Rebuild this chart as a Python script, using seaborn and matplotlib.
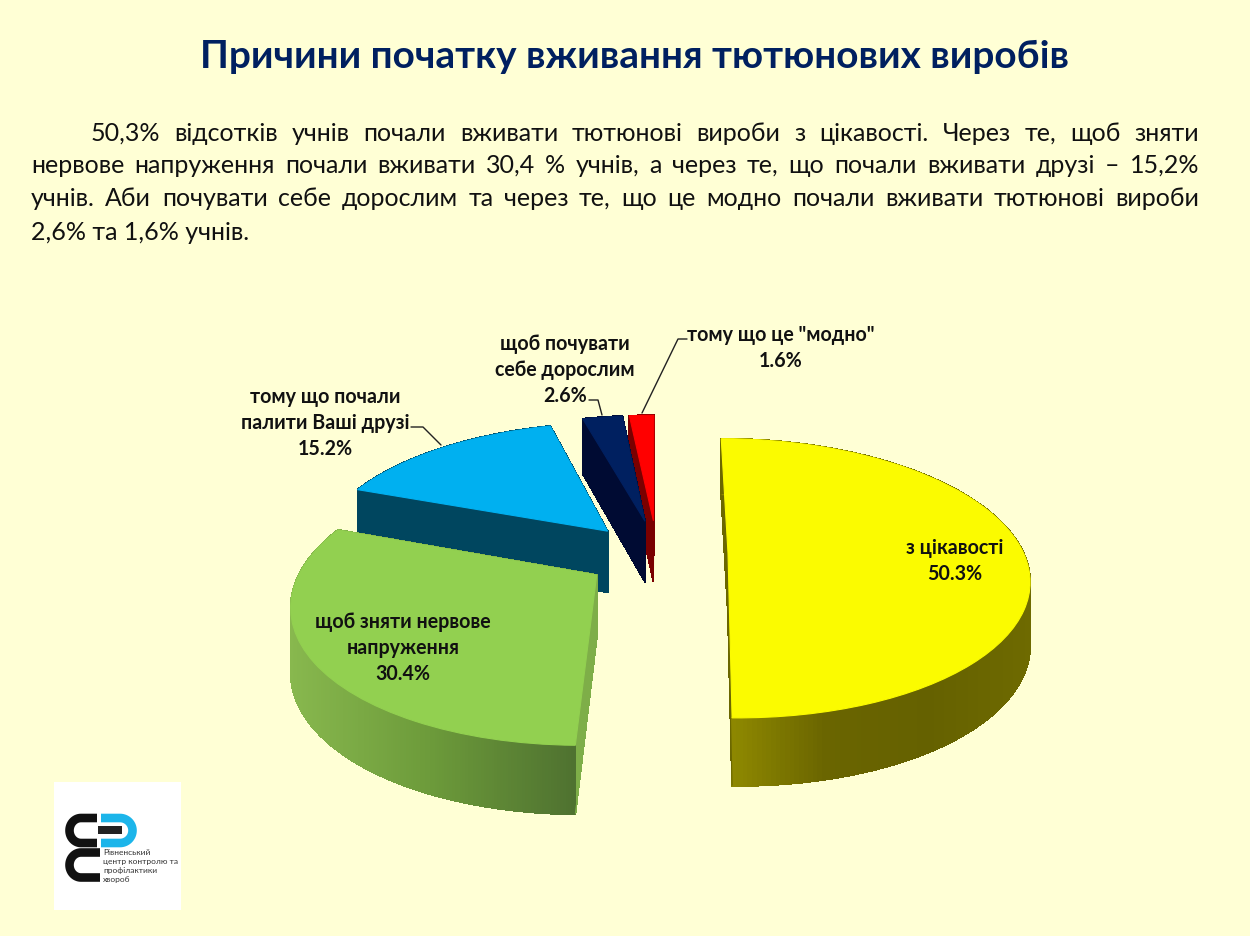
import numpy as np
import matplotlib
matplotlib.use("Agg")
import matplotlib.pyplot as plt
import seaborn as sns
from matplotlib.collections import LineCollection, PolyCollection
from matplotlib.patches import Rectangle
from matplotlib.transforms import Affine2D, Transform

categories = ["з цікавості", "щоб зняти нервове\nнапруження", "тому що почали\nпалити Ваші друзі",
              "щоб почувати\nсебе дорослим", "тому що це \"модно\""]
values = [50.3, 30.4, 15.2, 2.6, 1.6]
explode = [0.15, 0.28, 0.226, 0.25, 0.25]

top_colours = ["#FBFB00", "#92D050", "#00B0F0", "#002060", "#FF0000"]
arc_colours = [["#928C00", "#6A6500", "#656100", "#6E6A00"], ["#88B84E", "#6C9A3A", "#4F7230"],
               ["#00465F"], ["#000B33"], ["#7A0000"]]
edge_colours = ["#6B6700", "#7EAE48", "#00465F", "#000B33", "#7A0000"]

title = "Причини початку вживання тютюнових виробів"
body_lines = [
    "50,3% відсотків учнів почали вживати тютюнові вироби з цікавості. Через те, щоб зняти",
    "нервове напруження почали вживати 30,4 % учнів, а через те, що почали вживати друзі – 15,2%",
    "учнів. Аби почувати себе дорослим та через те, що це модно почали вживати тютюнові вироби",
    "2,6% та 1,6% учнів.",
]
logo_lines = ["Рівненський", "центр контролю та", "профілактики", "хвороб"]

BG = "#FFFFD5"
FONT = ["Lato", "Noto Sans", "DejaVu Sans"]
CX, CY, SX, SY, P = 683, 554, 300, 135, 0.18
x_nudge = [0, -15, -31, -25, -26]
x_scale = [0.985, 0.965, 0.98, 1, 1]
y_scale = [1, 0.97, 1, 1, 1]


class TiltPlane(Transform):
    # pie plane -> picture pixels, far side (y > 0) comes out smaller
    input_dims = output_dims = 2

    def transform_non_affine(self, pts):
        pts = np.asarray(pts, dtype=float)
        w = 1 + P * pts[:, 1]
        return np.column_stack((CX + SX * pts[:, 0] / w, CY - SY * pts[:, 1] / w))


sns.set_theme(style="white")
plt.rcParams["font.family"] = FONT

fig = plt.figure(figsize=(12.5, 9.37), dpi=100, facecolor=BG)
ax = fig.add_axes([0, 0, 1, 1])
wedges, _ = ax.pie(values, explode=explode, colors=top_colours, startangle=90, counterclock=False)
ax.set_aspect("auto")
ax.set_xlim(0, 1250)
ax.set_ylim(937, 0)
ax.axis("off")

plane = TiltPlane()

# side walls, drawn under each top face, back slices first
for i, wedge in reversed(list(enumerate(wedges))):
    z = 10 + (len(wedges) - i) * 2
    cen = np.array(wedge.center)
    apex = plane.transform(cen.reshape(1, 2))[0] + [x_nudge[i], 0]
    shift = (Affine2D().translate(x_nudge[i] - apex[0], -apex[1])
             .scale(x_scale[i], y_scale[i]).translate(apex[0], apex[1]))
    wedge.set_transform(plane + shift + ax.transData)
    wedge.set(zorder=z + 1, edgecolor=top_colours[i], linewidth=0.8)

    theta = np.radians(np.linspace(wedge.theta1, wedge.theta2, 240))
    arc = cen + wedge.r * np.column_stack((np.cos(theta), np.sin(theta)))
    outline = np.vstack((cen, arc, cen))
    px = shift.transform(plane.transform(outline))
    depth = 62 - 6 * outline[:, 1]

    cmap = sns.blend_palette(arc_colours[i] * (2 if len(arc_colours[i]) == 1 else 1), as_cmap=True)
    xmin, xmax = px[1:-1, 0].min(), px[1:-1, 0].max()
    quads, cols, order, rims = [], [], [], []
    for k in range(len(px) - 1):
        a, b = px[k], px[k + 1]
        quads.append([a, b, b + [0, depth[k + 1]], a + [0, depth[k]]])
        rims.append([a + [0, depth[k]], b + [0, depth[k + 1]]])
        if k == 0 or k == len(px) - 2:
            cols.append(edge_colours[i])
        else:
            cols.append(cmap((0.5 * (a[0] + b[0]) - xmin) / max(xmax - xmin, 1)))
        order.append(-0.5 * (outline[k, 1] + outline[k + 1, 1]))
    idx = np.argsort(order)
    # no antialiasing between strips, it leaves stripes; the rim line smooths the lower edge
    ax.add_collection(PolyCollection([quads[j] for j in idx], facecolors=[cols[j] for j in idx],
                                     edgecolors=[cols[j] for j in idx], linewidths=0.7,
                                     antialiaseds=False, zorder=z))
    ax.add_collection(LineCollection([rims[j] for j in idx], colors=[cols[j] for j in idx],
                                     linewidths=0.8, capstyle="round", zorder=z))

# title + justified paragraph
ax.text(635, 57, title, ha="center", va="center", fontsize=27.9, fontweight="bold", color="#002060")

renderer = fig.canvas.get_renderer()


def justified(line, x0, x1, base):
    words = line.split(" ")
    arts = [ax.text(0, base, w, fontsize=18, color="#111111", va="baseline") for w in words]
    widths = [t.get_window_extent(renderer).width for t in arts]
    gap = (x1 - x0 - sum(widths)) / (len(words) - 1)
    x = x0
    for t, w in zip(arts, widths):
        t.set_x(x)
        x += w + gap


justified(body_lines[0], 91, 1199, 141)
justified(body_lines[1], 31, 1199, 173)
justified(body_lines[2], 31, 1199, 206)
ax.text(31, 240, body_lines[3], fontsize=18, color="#111111", va="baseline")

# slice labels
label_pos = [(955, 561), (403, 648), (325, 423), (565, 370), (781, 348)]
for cat, val, (lx, ly) in zip(categories, values, label_pos):
    ax.text(lx, ly, f"{cat}\n{val}%", ha="center", va="center", fontsize=14.1, fontweight="bold",
            color="#111111", linespacing=1.35, zorder=30)

# leader lines
ax.plot([687, 678, 642], [340, 340, 414], color="#222222", lw=1, zorder=30)
ax.plot([589, 598, 602], [401, 401, 416], color="#222222", lw=1, zorder=30)
ax.plot([411, 423, 441], [428, 428, 446], color="#222222", lw=1, zorder=30)


# logo block
def logo_stroke(x_bar, x_arc, cy, rx, ry, start, stop, colour):
    t = np.radians(np.linspace(start, stop, 40))
    xs = np.r_[x_bar, x_arc + rx * np.cos(t), x_bar]
    ys = np.r_[cy + ry * np.sin(t)[0], cy + ry * np.sin(t), cy + ry * np.sin(t)[-1]]
    ax.plot(xs, ys, color=colour, lw=6.2, zorder=41, solid_capstyle="butt", solid_joinstyle="round")


ax.add_patch(Rectangle((54, 783), 127, 128, facecolor="white", edgecolor="none", zorder=40))
logo_stroke(97, 81, 831.5, 11.5, 12.5, 90, 270, "#111111")
logo_stroke(100, 81, 866, 11.5, 12.5, 90, 270, "#111111")
logo_stroke(101, 120, 831.5, 12.5, 12.5, -90, 90, "#1CB5EA")
ax.add_patch(Rectangle((98, 827), 24, 8, facecolor="#222222", edgecolor="none", zorder=42))
for line, ly in zip(logo_lines, [853, 862, 871, 880]):
    ax.text(103, ly, line, fontsize=6.0, color="#333333", va="center", zorder=42)

fig.savefig("out.png", dpi=100, facecolor=BG)
